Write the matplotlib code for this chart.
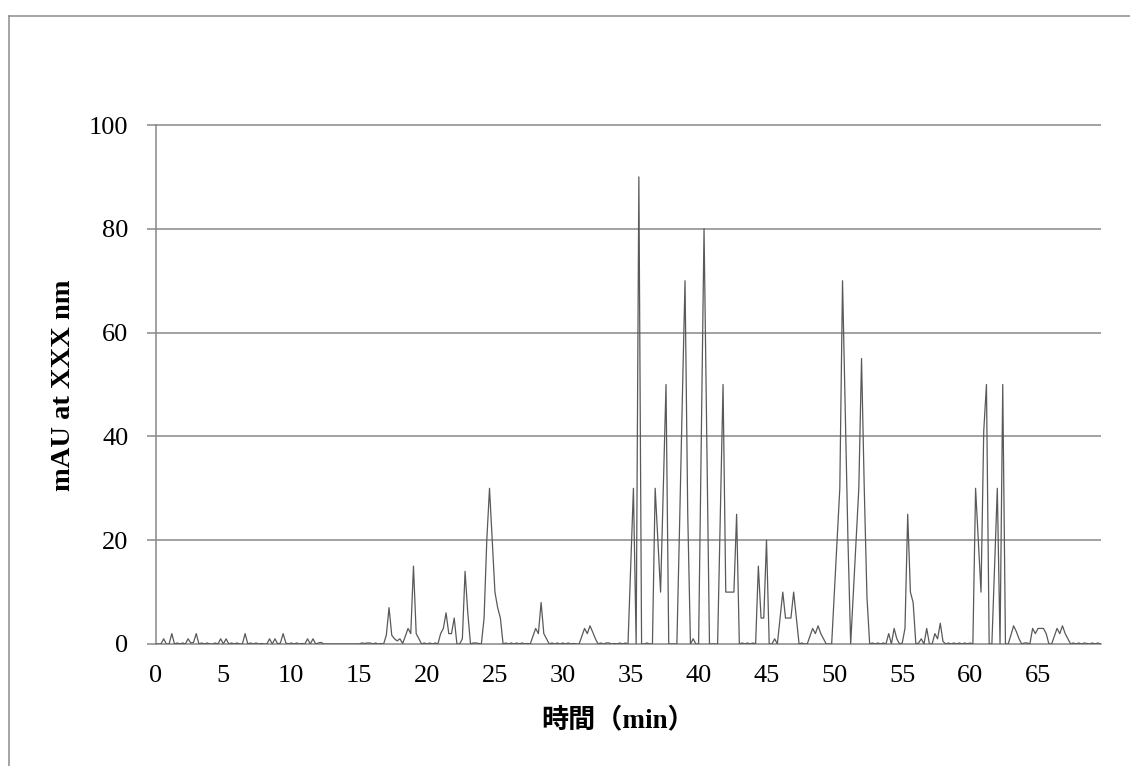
import matplotlib.pyplot as plt
import numpy as np

# UV trace in mAU, one reading every 0.2 min (each row covers 5 min)
mau = [
    0, 0, 0, 1, 0, 0, 2, 0, 0.2, 0, 0.2, 0, 1, 0.2, 0.3, 2, 0, 0.2, 0, 0.2, 0, 0, 0.2, 0, 1,
    0, 1, 0, 0.2, 0, 0.2, 0, 0, 2, 0, 0.2, 0, 0.2, 0, 0.1, 0, 0, 1, 0, 1, 0, 0.2, 2, 0.2, 0,
    0.2, 0, 0.2, 0, 0.1, 0, 1, 0, 1, 0, 0.2, 0.3, 0, 0, 0, 0, 0, 0, 0, 0, 0, 0, 0, 0, 0,
    0, 0.2, 0.1, 0.2, 0.2, 0, 0.2, 0, 0.1, 0, 1.7, 7, 1.7, 1, 0.6, 1, 0.1, 1.5, 3, 2, 15, 2, 1, 0, 0.2,
    0, 0.2, 0, 0.2, 0, 2, 3, 6, 2, 2, 5, 0, 0, 1, 14, 6, 0, 0.2, 0.2, 0.1, 0, 5, 20, 30, 20,
    10, 7, 5, 0, 0.2, 0, 0.2, 0, 0.2, 0, 0.2, 0, 0.1, 0, 1.5, 3, 2, 8, 2, 1, 0, 0.2, 0, 0.2, 0,
    0.2, 0, 0.2, 0, 0.1, 0, 0, 1.5, 3, 2, 3.5, 2.3, 1, 0, 0.2, 0, 0.2, 0.2, 0, 0.1, 0, 0.2, 0, 0.2, 0,
    15, 30, 0, 90, 0, 0, 0.2, 0, 0, 30, 20, 10, 30, 50, 0, 0, 0, 0, 23, 47, 70, 25, 0, 1, 0,
    0, 40, 80, 40, 0, 0, 0, 0, 25, 50, 10, 10, 10, 10, 25, 0, 0.2, 0, 0.2, 0, 0.2, 0, 15, 5, 5,
    20, 0, 0, 1, 0, 5, 10, 5, 5, 5, 10, 5, 0, 0.2, 0, 0, 1.5, 3, 2, 3.5, 2, 1, 0, 0, 0,
    10, 20, 30, 70, 45, 20, 0, 10, 20, 30, 55, 30, 9, 0, 0.2, 0, 0.2, 0, 0.2, 0, 2, 0, 3, 1, 0,
    0.2, 3, 25, 10, 8, 0, 0.2, 1, 0, 3, 0, 0, 2, 1, 4, 0.5, 0, 0.2, 0, 0.2, 0, 0.2, 0, 0.2, 0,
    0.2, 0, 30, 20, 10, 41, 50, 0, 0, 15, 30, 0, 50, 0, 0, 1.7, 3.5, 2.4, 1, 0, 0.2, 0.2, 0, 3, 2,
    3, 3, 3, 2, 0, 0, 1.5, 3, 2, 3.5, 2, 1, 0, 0.2, 0, 0.2, 0, 0.2, 0.1, 0, 0.2, 0, 0.2, 0,
]
time_min = np.round(np.arange(len(mau)) * 0.2, 1)

x_ticks = list(range(0, 70, 5))
y_ticks = [0, 20, 40, 60, 80, 100]

plt.rcParams['font.family'] = ['Liberation Serif', 'Noto Sans CJK JP']

W, H = 1130, 766
fig = plt.figure(figsize=(W / 100, H / 100), dpi=100)
fig.patch.set_facecolor('white')

# chart frame (only left and top edges fall inside the image)
frame_c = '#8c8c8c'
fig.add_artist(plt.Line2D([8.5 / W, 8.5 / W], [0, 1 - 16 / H], color=frame_c, lw=1.1))
fig.add_artist(plt.Line2D([8.5 / W, 1], [1 - 16 / H, 1 - 16 / H], color=frame_c, lw=1.1))

ax = fig.add_axes([155.5 / W, 1 - 644 / H, (1100.5 - 155.5) / W, (644 - 125) / H])

grid_c = '#878787'
ax.hlines(y_ticks[1:], 0, time_min[-1], color=grid_c, lw=1.1, clip_on=False, zorder=1)
ax.plot(time_min, mau, color='#595959', lw=0.9, zorder=3)

ax.set_xlim(0, time_min[-1])
ax.set_ylim(0, 100)
ax.set_xticks(x_ticks)
ax.set_yticks(y_ticks)

for s in ['top', 'right']:
    ax.spines[s].set_visible(False)
for s in ['left', 'bottom']:
    ax.spines[s].set_color(grid_c)
    ax.spines[s].set_linewidth(1.1)

ax.tick_params(axis='x', length=0, pad=15, labelsize=19)
ax.tick_params(axis='y', length=6.5, width=1.1, color=grid_c, pad=13, labelsize=19)

fig.text(63.5 / W, 1 - 385 / H, 'mAU at XXX nm', rotation=90, ha='center', va='center',
         fontsize=20.5, fontweight='bold')
fig.text(618 / W, 1 - 720 / H, '時間（min）', ha='center', va='center',
         fontsize=19.5, fontweight='bold')

fig.savefig('out.png', dpi=100)
